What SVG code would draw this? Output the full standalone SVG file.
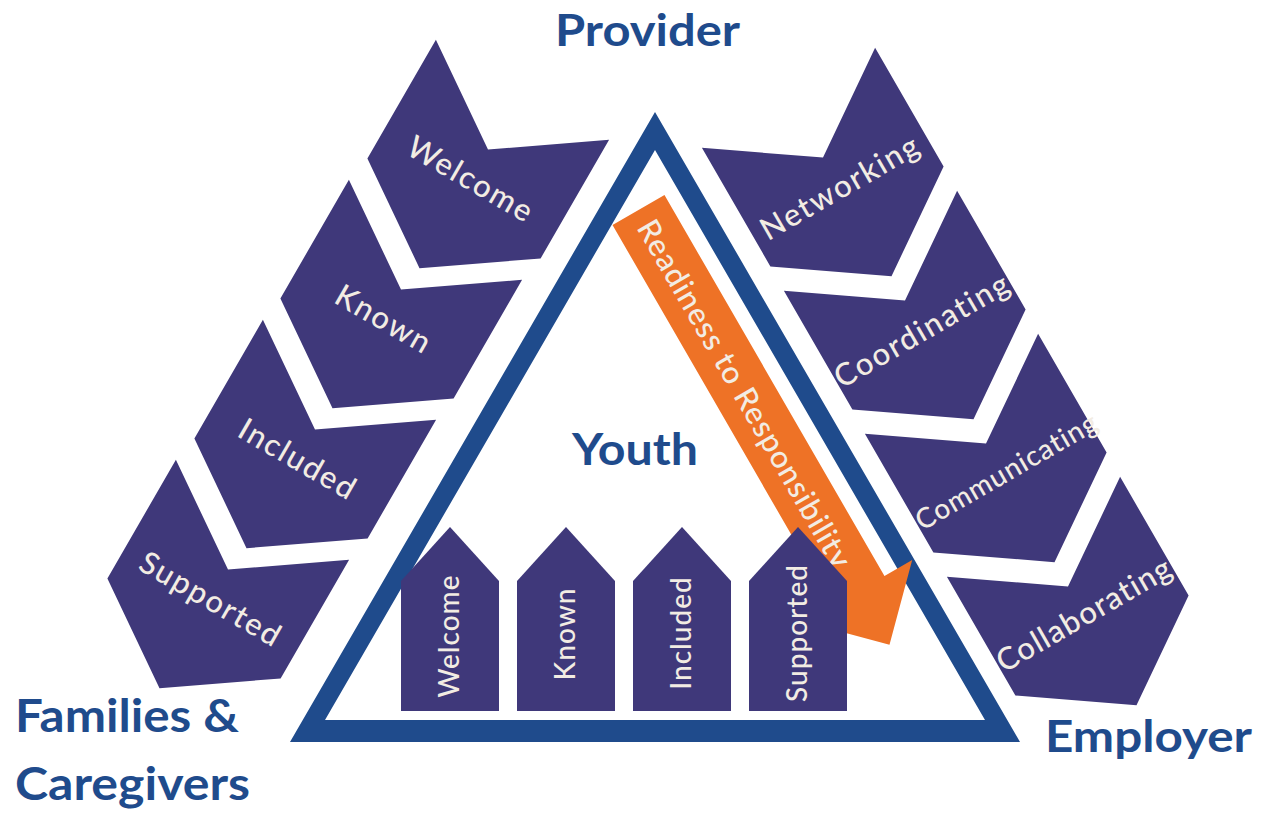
<svg xmlns="http://www.w3.org/2000/svg" width="1262" height="814" viewBox="0 0 1262 814">
<defs>
<style>
.chev{fill:#3f387a}
.house{fill:#3f387a}
.tri{fill:#1f4b8c;fill-rule:evenodd}
.arrow{fill:#ee7226}
.lbl{font-family:Lato,"Open Sans","Liberation Sans",sans-serif;font-weight:500;fill:#f2ece3;text-anchor:middle}
.cl{font-size:31px;letter-spacing:1.8px}
.hl{font-size:28px;letter-spacing:1px}
.title{font-family:Lato,"Open Sans","Liberation Sans",sans-serif;font-weight:700;fill:#1f4b8c}
</style>
<path id="chevShape" d="M-100,-103 L0,-34 L100,-103 L100,34 L0,103 L-100,34 Z"/>
</defs>
<rect width="1262" height="814" fill="#ffffff"/>

<g id="left-chevrons">
<g id="chev-welcome" transform="translate(471,179) rotate(30)"><use href="#chevShape" class="chev"/><text class="lbl cl" x="0" y="11">Welcome</text></g>
<g id="chev-known" transform="translate(384,319) rotate(30)"><use href="#chevShape" class="chev"/><text class="lbl cl" x="0" y="11">Known</text></g>
<g id="chev-included" transform="translate(298,459) rotate(30)"><use href="#chevShape" class="chev"/><text class="lbl cl" x="0" y="11">Included</text></g>
<g id="chev-supported" transform="translate(211,599) rotate(30)"><use href="#chevShape" class="chev"/><text class="lbl cl" x="0" y="11">Supported</text></g>
</g>

<g id="right-chevrons">
<g id="chev-networking" transform="translate(840,187) rotate(-30)"><use href="#chevShape" class="chev"/><text class="lbl cl" x="0" y="11">Networking</text></g>
<g id="chev-coordinating" transform="translate(922,330) rotate(-30)"><use href="#chevShape" class="chev"/><text class="lbl cl" x="0" y="11">Coordinating</text></g>
<g id="chev-communicating" transform="translate(1003,473) rotate(-30)"><use href="#chevShape" class="chev"/><text class="lbl cl" x="4" y="10" style="font-size:28px;letter-spacing:1px">Communicating</text></g>
<g id="chev-collaborating" transform="translate(1085,616) rotate(-30)"><use href="#chevShape" class="chev"/><text class="lbl cl" x="0" y="9" style="letter-spacing:1.2px">Collaborating</text></g>
</g>

<g id="triangle">
<path class="tri" d="M655,112 L290,742 L1020,742 Z M655,150 L325,720 L985,720 Z"/>
</g>

<g id="readiness-arrow" transform="translate(638.5,210) rotate(60)">
<path class="arrow" d="M0,-30 L440,-30 L440,-62 L502,0 L440,62 L440,30 L0,30 Z"/>
<text class="lbl" x="212" y="11" style="font-size:31px" textLength="396" lengthAdjust="spacing">Readiness to Responsibility</text>
</g>

<g id="houses">
<g id="house-welcome"><path class="house" d="M401,711 V581 L450,527 L499,581 V711 Z"/><text class="lbl hl" transform="translate(459,636) rotate(-90)">Welcome</text></g>
<g id="house-known"><path class="house" d="M517,711 V581 L566,527 L615,581 V711 Z"/><text class="lbl hl" transform="translate(575,634) rotate(-90)">Known</text></g>
<g id="house-included"><path class="house" d="M633,711 V581 L682,527 L731,581 V711 Z"/><text class="lbl hl" transform="translate(691,633) rotate(-90)">Included</text></g>
<g id="house-supported"><path class="house" d="M749,711 V581 L798,527 L847,581 V711 Z"/><text class="lbl hl" transform="translate(807,633) rotate(-90)">Supported</text></g>
</g>

<g id="titles">
<text id="provider" class="title" x="555" y="46" style="font-size:43px" textLength="185" lengthAdjust="spacingAndGlyphs">Provider</text>
<text id="youth" class="title" x="572" y="465" style="font-size:44px" textLength="126" lengthAdjust="spacingAndGlyphs">Youth</text>
<text id="families" class="title" x="15" y="732" style="font-size:45px" textLength="224" lengthAdjust="spacingAndGlyphs">Families &amp;</text>
<text id="caregivers" class="title" x="15" y="800" style="font-size:45px" textLength="235" lengthAdjust="spacingAndGlyphs">Caregivers</text>
<text id="employer" class="title" x="1045" y="752" style="font-size:44px" textLength="207" lengthAdjust="spacingAndGlyphs">Employer</text>
</g>

<g id="connectors"/>
</svg>
